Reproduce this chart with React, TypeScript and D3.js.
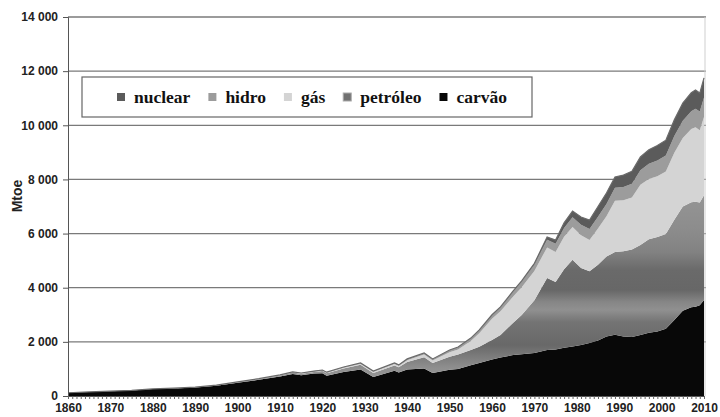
import React, { useEffect, useRef } from "react";
import * as d3 from "d3";

const years = [1860, 1865, 1870, 1875, 1880, 1885, 1890, 1895, 1900, 1905, 1910, 1913, 1915, 1918, 1920, 1921, 1925, 1929, 1932, 1937, 1938, 1940, 1944, 1946, 1950, 1952, 1955, 1957, 1960, 1962, 1965, 1967, 1970, 1973, 1975, 1977, 1979, 1981, 1983, 1985, 1987, 1989, 1991, 1993, 1995, 1997, 1999, 2001, 2003, 2005, 2007, 2008, 2009, 2010];
const carvao = [120, 150, 178, 206, 255, 280, 316, 382, 490, 600, 720, 815, 770, 830, 840, 750, 890, 980, 700, 930, 870, 980, 1020, 850, 970, 1000, 1140, 1220, 1350, 1420, 1510, 1540, 1590, 1700, 1720, 1780, 1830, 1880, 1960, 2050, 2200, 2260, 2200, 2180, 2250, 2340, 2380, 2480, 2810, 3150, 3280, 3300, 3350, 3550];
const petroleo = [0, 0, 2, 4, 5, 8, 10, 12, 20, 25, 38, 50, 55, 60, 85, 95, 130, 170, 150, 200, 195, 280, 410, 370, 480, 530, 560, 600, 720, 830, 1200, 1450, 1950, 2660, 2490, 2900, 3200, 2850, 2650, 2800, 2950, 3060, 3150, 3230, 3330, 3450, 3490, 3500, 3700, 3850, 3880, 3880, 3800, 3870];
const gas = [0, 0, 0, 0, 0, 2, 3, 4, 6, 9, 12, 13, 12, 15, 17, 17, 28, 42, 42, 52, 47, 65, 105, 90, 165, 185, 330, 500, 785, 878, 970, 1030, 1080, 1130, 1110, 1200, 1210, 1210, 1150, 1340, 1490, 1890, 1880, 1920, 2220, 2230, 2250, 2310, 2480, 2530, 2700, 2750, 2670, 2890];
const hidro = [0, 0, 0, 0, 0, 0, 1, 2, 4, 6, 10, 12, 13, 15, 18, 18, 22, 28, 28, 38, 38, 45, 55, 60, 85, 95, 110, 120, 145, 160, 190, 210, 240, 280, 300, 330, 360, 390, 410, 430, 450, 480, 490, 510, 540, 560, 580, 590, 610, 640, 660, 680, 690, 720];
const nuclear = [0, 0, 0, 0, 0, 0, 0, 0, 0, 0, 0, 0, 0, 0, 0, 0, 0, 0, 0, 0, 0, 0, 0, 0, 0, 0, 0, 0, 0, 2, 10, 20, 40, 100, 140, 190, 230, 280, 330, 380, 410, 400, 440, 460, 490, 520, 550, 570, 600, 650, 680, 690, 680, 720];

const yTicks = [0, 2000, 4000, 6000, 8000, 10000, 12000, 14000];
const xTicks = d3.range(1860, 2011, 10);
const legendItems = ["nuclear", "hidro", "gás", "petróleo", "carvão"];
const stackKeys = ["carvão", "petróleo", "gás", "hidro", "nuclear"];

const colors: Record<string, string> = {
  nuclear: "#5b5b5b",
  hidro: "#9c9c9c",
  "gás": "#d4d4d4",
  "petróleo": "url(#oilGrad)",
  "carvão": "#080808",
};

export default function App() {
  const ref = useRef<SVGSVGElement>(null);

  useEffect(() => {
    const svg = d3.select(ref.current);
    svg.selectAll("*").remove();

    const x = d3.scaleLinear().domain([1860, 2010]).range([68, 704]);
    const y = d3.scaleLinear().domain([0, 14000]).range([396, 17]);

    const rows = years.map((yr, i) => ({
      year: yr,
      "carvão": carvao[i],
      "petróleo": petroleo[i],
      "gás": gas[i],
      hidro: hidro[i],
      nuclear: nuclear[i],
    }));

    const defs = svg.append("defs");
    const grad = defs.append("linearGradient")
      .attr("id", "oilGrad")
      .attr("gradientUnits", "userSpaceOnUse")
      .attr("x1", 0).attr("x2", 0).attr("y1", 17).attr("y2", 396);
    const stops: [number, string][] = [
      [195, "#959595"], [230, "#8c8c8c"], [252, "#828282"], [270, "#6a6a6a"],
      [290, "#676767"], [302, "#868686"], [310, "#909090"], [322, "#747474"],
      [345, "#686868"], [368, "#8f8f8f"], [396, "#a6a6a6"],
    ];
    stops.forEach(([py, c]) => {
      grad.append("stop").attr("offset", (py - 17) / (396 - 17)).attr("stop-color", c);
    });

    // grade horizontal
    svg.append("g").selectAll("line")
      .data(yTicks.filter(d => d > 0))
      .enter().append("line")
      .attr("x1", 68).attr("x2", 706)
      .attr("y1", d => y(d)).attr("y2", d => y(d))
      .attr("stroke", "#7a7a7a").attr("stroke-width", 1.3);

    // borda direita
    svg.append("line")
      .attr("x1", 705).attr("x2", 705).attr("y1", 17).attr("y2", 396)
      .attr("stroke", "#cfcfcf");

    const stacked = d3.stack<any>().keys(stackKeys)(rows);
    const area = d3.area<any>()
      .x(d => x(d.data.year))
      .y0(d => y(d[0]))
      .y1(d => y(d[1]));

    svg.append("g").selectAll("path")
      .data(stacked)
      .enter().append("path")
      .attr("d", area)
      .attr("fill", d => colors[d.key]);

    // contorno do topo
    const top = stacked[stacked.length - 1];
    svg.append("path")
      .attr("d", d3.line<any>().x(d => x(d.data.year)).y(d => y(d[1]))(top))
      .attr("fill", "none").attr("stroke", "#6a6a6a").attr("stroke-width", 1.2);

    // eixo y
    const yAxis = svg.append("g")
      .attr("transform", "translate(68,0)")
      .call(d3.axisLeft(y).tickValues(yTicks).tickSize(5).tickPadding(5)
        .tickFormat(d => d3.format(",")(d as number).replace(/,/g, " ")));
    yAxis.select(".domain").attr("stroke", "#555");
    yAxis.selectAll("line").attr("stroke", "#555");
    yAxis.selectAll("text")
      .attr("font-family", "Liberation Sans, Arial, sans-serif")
      .attr("font-weight", "bold").attr("font-size", 12).attr("fill", "#222");

    // eixo x: marcas anuais
    const xAxisMinor = svg.append("g")
      .attr("transform", "translate(0,396)")
      .call(d3.axisBottom(x).ticks(150).tickSize(3).tickFormat(() => ""));
    xAxisMinor.select(".domain").attr("stroke", "#555");
    xAxisMinor.selectAll("line").attr("stroke", "#666");

    const xAxis = svg.append("g")
      .attr("transform", "translate(0,396)")
      .call(d3.axisBottom(x).tickValues(xTicks).tickSize(0).tickPadding(7)
        .tickFormat(d3.format("d")));
    xAxis.select(".domain").remove();
    xAxis.selectAll("text")
      .attr("font-family", "Liberation Sans, Arial, sans-serif")
      .attr("font-weight", "bold").attr("font-size", 12).attr("fill", "#222");

    svg.append("text")
      .attr("transform", "translate(22,196) rotate(-90)")
      .attr("text-anchor", "middle")
      .attr("font-family", "Liberation Sans, Arial, sans-serif")
      .attr("font-weight", "bold").attr("font-size", 14).attr("fill", "#222")
      .text("Mtoe");

    // legenda
    const lg = svg.append("g");
    lg.append("rect")
      .attr("x", 82).attr("y", 77).attr("width", 450).attr("height", 40)
      .attr("fill", "#fff").attr("stroke", "#666").attr("stroke-width", 1.2);
    let lx = 117;
    legendItems.forEach(k => {
      lg.append("rect")
        .attr("x", lx).attr("y", 93).attr("width", 8).attr("height", 8)
        .attr("fill", k === "petróleo" ? "#707070" : colors[k])
        .attr("stroke", k === "petróleo" ? "#aaa" : "none");
      const t = lg.append("text")
        .attr("x", lx + 17).attr("y", 103)
        .attr("font-family", "Liberation Serif, Times New Roman, serif")
        .attr("font-weight", "bold").attr("font-size", 17.5).attr("fill", "#111")
        .text(k);
      const w = (t.node() as SVGTextElement).getComputedTextLength();
      lx += 17 + w + 18;
    });
  }, []);

  return (
    <svg ref={ref} width={720} height={417}
      style={{ position: "absolute", left: 0, top: 0, background: "#fff" }} />
  );
}
